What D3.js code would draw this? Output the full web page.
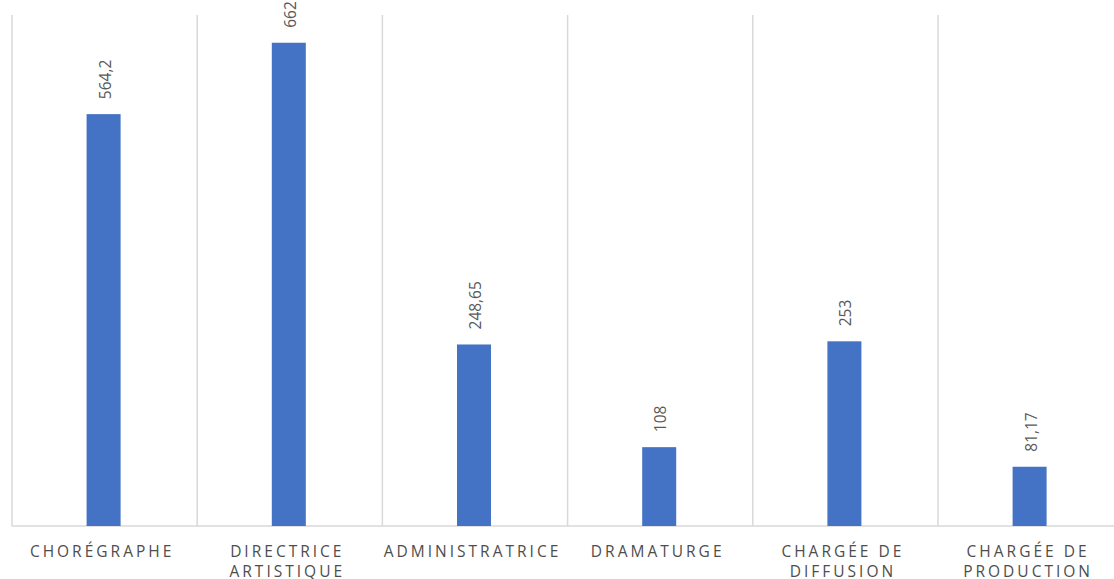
<!DOCTYPE html>
<html>
<head>
<meta charset="utf-8">
<script src="https://cdn.jsdelivr.net/npm/d3@7"></script>
<style>
  body { margin: 0; background: #fff; }
  svg { display: block; }
</style>
</head>
<body>
<svg></svg>
<script>
// salaires par poste

var categories = ["CHORÉGRAPHE", "DIRECTRICE ARTISTIQUE", "ADMINISTRATRICE", "DRAMATURGE", "CHARGÉE DE DIFFUSION", "CHARGÉE DE PRODUCTION"];
var values = [564.2, 662, 248.65, 108, 253, 81.17];

var width = 1114;
var height = 579;
var plotTop = 15;
var plotBottom = 526;
var plotLeft = 12;
var bandW = 185.2;
var barWidth = 34;
var font = "'Open Sans', 'Liberation Sans', sans-serif";

var data = categories.map((c, i) => ({cat: c, val: values[i]}));

var xScale = d3.scaleBand()
                  .domain(categories)
                  .range([plotLeft, plotLeft + bandW * categories.length])
                  .paddingInner(0)
                  .paddingOuter(0);

var yScale = d3.scaleLinear()
                  .domain([0, 700])
                  .range([plotBottom, plotTop]);

var svg = d3.select('svg')
              .attr('width', width)
              .attr('height', height);

// vertical separators
var seps = categories.map(c => xScale(c)).concat([xScale.range()[1]]);
svg.selectAll('line.sep')
    .data(seps)
    .enter()
    .append('line')
      .attr('class', 'sep')
      .attr('x1', d => d)
      .attr('x2', d => d)
      .attr('y1', plotTop)
      .attr('y2', plotBottom)
      .attr('stroke', '#d9d9d9')
      .attr('stroke-width', 1.5);

svg.append('line')
    .attr('x1', plotLeft)
    .attr('x2', xScale.range()[1])
    .attr('y1', plotBottom)
    .attr('y2', plotBottom)
    .attr('stroke', '#d9d9d9')
    .attr('stroke-width', 1.5);

svg.selectAll('rect')
    .data(data)
    .enter()
    .append('rect')
      .attr('x', d => xScale(d.cat) + xScale.bandwidth() / 2 - barWidth / 2 - 1)
      .attr('y', d => yScale(d.val))
      .attr('width', barWidth)
      .attr('height', d => plotBottom - yScale(d.val))
      .attr('fill', '#4472c4');

// value labels, rotated
svg.selectAll('text.val')
    .data(data)
    .enter()
    .append('text')
      .attr('class', 'val')
      .attr('transform', d => 'translate(' + (xScale(d.cat) + xScale.bandwidth() / 2 + 6) + ',' + (yScale(d.val) - 15) + ') rotate(-90)')
      .attr('font-family', font)
      .attr('font-size', 15.5)
      .attr('fill', '#595959')
      .text(d => String(d.val).replace('.', ','));

// category labels, wrapped
var catText = svg.selectAll('text.cat')
    .data(data)
    .enter()
    .append('text')
      .attr('class', 'cat')
      .attr('x', d => xScale(d.cat) + xScale.bandwidth() / 2 - 2.5)
      .attr('y', 557)
      .attr('text-anchor', 'middle')
      .attr('font-family', font)
      .attr('font-size', 15.5)
      .attr('letter-spacing', 3)
      .attr('fill', '#4d4d4d');

catText.each(function(d) {
  var t = d3.select(this);
  t.text(d.cat);
  if (this.getComputedTextLength() < xScale.bandwidth() - 4) return;
  var words = d.cat.split(' ');
  var lines = [], line = [];
  words.forEach(w => {
    line.push(w);
    t.text(line.join(' '));
    if (this.getComputedTextLength() > 150 && line.length > 1) {
      line.pop();
      lines.push(line.join(' '));
      line = [w];
    }
  });
  lines.push(line.join(' '));
  t.text(null);
  lines.forEach((l, i) => {
    t.append('tspan')
      .attr('x', xScale(d.cat) + xScale.bandwidth() / 2 - 2.5)
      .attr('dy', i === 0 ? 0 : 19.5)
      .text(l);
  });
});
</script>
</body>
</html>
